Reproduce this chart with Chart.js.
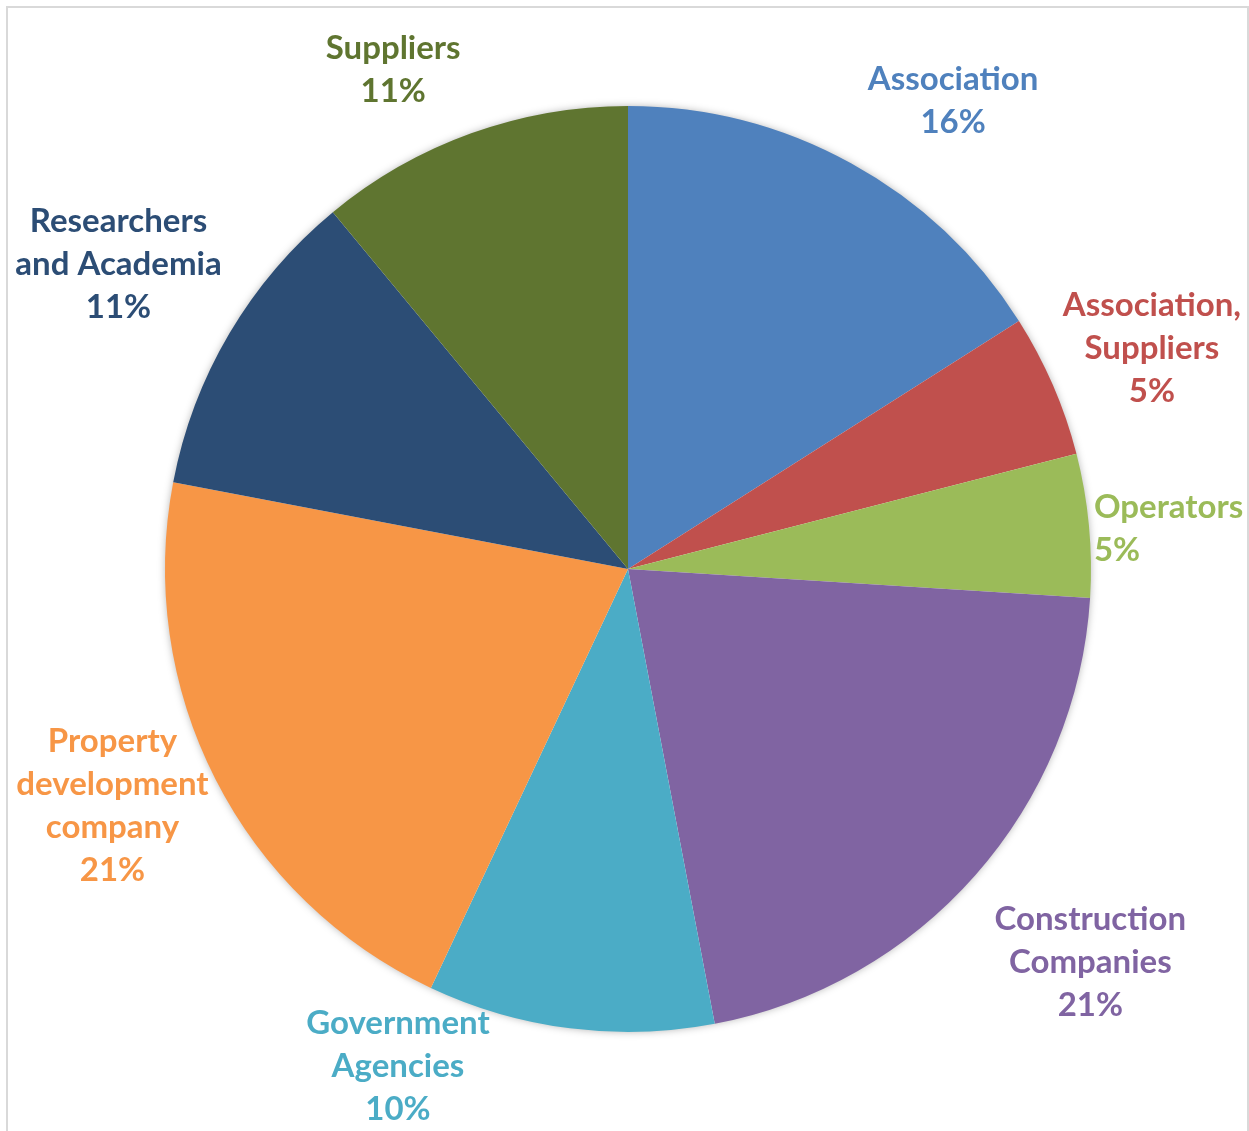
<!DOCTYPE html>
<html>
<head>
<meta charset="utf-8">
<title>Stakeholder share</title>
<script src="https://cdn.jsdelivr.net/npm/chart.js@4.4.1/dist/chart.umd.min.js"></script>
<style>
    html, body { margin: 0; padding: 0; background: #ffffff; }
    .wrap { position: relative; width: 1249px; height: 1131px; overflow: hidden; }
    .frame {
        position: absolute; left: 6px; top: 6px; width: 1239px; height: 1200px;
        border: 2px solid #d9d9d9; border-bottom: none;
    }
    canvas { position: absolute; left: 0; top: 0; }
</style>
</head>
<body>
<div class="wrap">
    <div class="frame"></div>
    <canvas id="pie" width="1249" height="1131"></canvas>
</div>
<script>
// stakeholder groups, clockwise from 12 o'clock
const categories = [
    'Association',
    'Association, Suppliers',
    'Operators',
    'Construction Companies',
    'Government Agencies',
    'Property development company',
    'Researchers and Academia',
    'Suppliers'
];
const labelLines = [
    ['Association'],
    ['Association,', 'Suppliers'],
    ['Operators'],
    ['Construction', 'Companies'],
    ['Government', 'Agencies'],
    ['Property', 'development', 'company'],
    ['Researchers', 'and Academia'],
    ['Suppliers']
];
const shares = [16, 5, 5, 21, 10, 21, 11, 11];
const colors = ['#4F81BD', '#C0504D', '#9BBB59', '#8064A2', '#4BACC6', '#F79646', '#2C4D75', '#5F7530'];

// soft glow under the whole pie (drawn once so slices don't shade each other)
const pieShadow = {
    id: 'pieShadow',
    beforeDatasetsDraw(chart) {
        const arc = chart.getDatasetMeta(0).data[0];
        if (!arc) return;
        const ctx = chart.ctx;
        ctx.save();
        ctx.shadowColor = 'rgba(0,0,0,0.35)';
        ctx.shadowBlur = 9;
        ctx.fillStyle = '#ffffff';
        ctx.beginPath();
        ctx.arc(arc.x, arc.y, arc.outerRadius - 1, 0, Math.PI * 2);
        ctx.fill();
        ctx.restore();
    }
};

// outside labels: name lines + percentage, offset from the slice's outer mid point
const outsideLabels = {
    id: 'outsideLabels',
    afterDatasetsDraw(chart, args, opts) {
        const ctx = chart.ctx;
        const meta = chart.getDatasetMeta(0);
        ctx.save();
        ctx.font = opts.font;
        ctx.textBaseline = 'middle';
        meta.data.forEach((arc, i) => {
            const mid = (arc.startAngle + arc.endAngle) / 2;
            const off = opts.offsets[i];
            const x = arc.x + Math.cos(mid) * arc.outerRadius + off[0];
            const y = arc.y + Math.sin(mid) * arc.outerRadius + off[1];
            const lines = labelLines[i].concat([shares[i] + '%']);
            ctx.fillStyle = colors[i];
            ctx.textAlign = off[2] || 'center';
            lines.forEach((t, k) => {
                ctx.fillText(t, x, y + (k - (lines.length - 1) / 2) * opts.lineHeight);
            });
        });
        ctx.restore();
    }
};

new Chart(document.getElementById('pie'), {
    type: 'pie',
    data: {
        labels: categories,
        datasets: [{
            data: shares,
            backgroundColor: colors,
            borderWidth: 0,
            hoverOffset: 0
        }]
    },
    options: {
        responsive: false,
        animation: false,
        layout: { padding: { left: 165, right: 158, top: 106, bottom: 99 } },
        plugins: {
            legend: { display: false },
            tooltip: { enabled: false },
            outsideLabels: {
                font: 'bold 33px Lato',
                lineHeight: 43,
                offsets: [
                    [102, -62],
                    [99, -37],
                    [5, 3, 'left'],
                    [115, 87],
                    [-172, 38],
                    [-103, 27],
                    [-111, -69],
                    [-78, -64]
                ]
            }
        }
    },
    plugins: [pieShadow, outsideLabels]
});
</script>
</body>
</html>
